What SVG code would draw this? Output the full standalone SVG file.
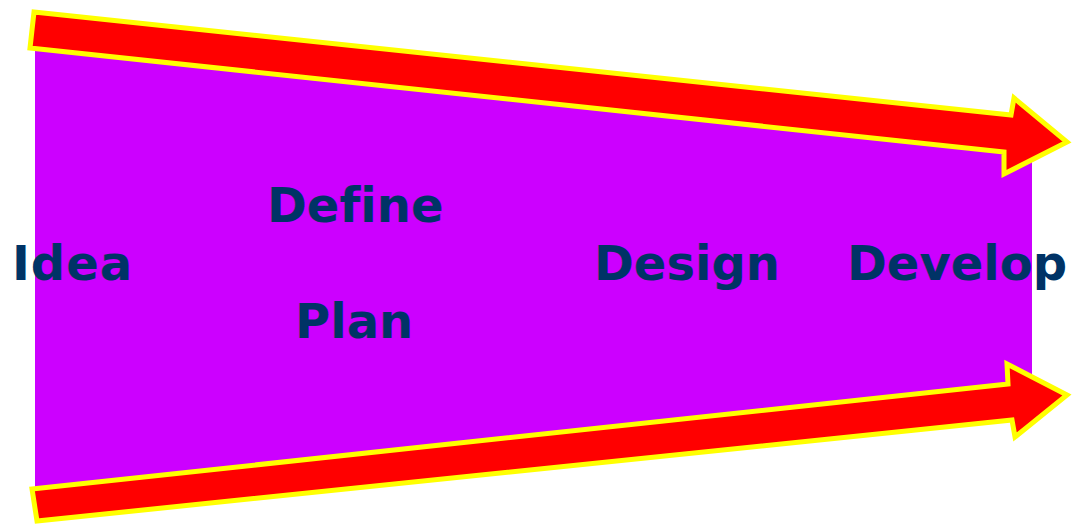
<svg xmlns="http://www.w3.org/2000/svg" width="1073" height="525" viewBox="0 0 1073 525">
  <style>
    .band { fill: #CC00FF; }
    .arrow { fill: #FF0000; stroke: #FFFF00; stroke-width: 5; stroke-linejoin: miter; }
    .label { font-family: "DejaVu Sans", Verdana, sans-serif; font-weight: bold; font-size: 48px; fill: #003366; font-variant-ligatures: none; }
  </style>
  <!-- funnel body -->
  <g id="funnel">
    <polygon class="band" points="35,50 1032,156 1032,384 35,490"/>
  </g>
  <!-- converging arrows -->
  <g id="connectors">
    <polygon class="arrow" points="34,12 1011,115 1014,98 1067,142 1004,174 1004,152 30,48"/>
    <polygon class="arrow" points="32,489 1008,384 1007,364 1067,395 1015,437 1012,420 37,521"/>
  </g>
  <g id="idea"><text class="label" x="12" y="280" letter-spacing="1">Idea</text></g>
  <g id="define"><text class="label" x="267" y="222">Define</text></g>
  <g id="plan"><text class="label" x="295" y="338">Plan</text></g>
  <g id="design"><text class="label" x="594" y="280">Design</text></g>
  <g id="develop"><text class="label" x="847" y="280">Develop</text></g>
</svg>
